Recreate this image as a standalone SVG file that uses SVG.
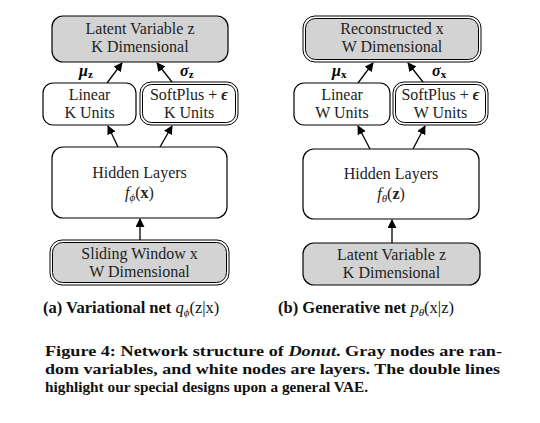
<svg xmlns="http://www.w3.org/2000/svg" width="540" height="423" viewBox="0 0 540 423">
<defs>
<style>
.n{fill:#fff;stroke:#000;stroke-width:1.2}
.g{fill:#d3d3d3;stroke:#000;stroke-width:1.2}
.o{fill:#fff;stroke:#000;stroke-width:1}
.i{stroke:#000;stroke-width:1}
.t{font-family:"Liberation Serif",serif;font-size:16px;text-anchor:middle;fill:#222}
.m{font-family:"Liberation Serif",serif;font-size:16px;font-style:italic;font-weight:bold;fill:#000}
.c{stroke:#000;stroke-width:1.3;fill:none;marker-end:url(#ah)}
.cap{font-family:"Liberation Serif",serif;font-weight:bold;font-size:16.5px;fill:#111}
.fig{font-family:"Liberation Serif",serif;font-weight:bold;font-size:15.5px;fill:#111}
</style>
<marker id="ah" viewBox="0 0 10 10" refX="9" refY="5" markerWidth="9" markerHeight="9" markerUnits="userSpaceOnUse" orient="auto">
<path d="M0,0 L10,5 L0,10 z" fill="#000"/>
</marker>
</defs>

<g id="connectors">
<line class="c" x1="140" y1="240" x2="140" y2="219"/>
<line class="c" x1="118" y1="147" x2="108" y2="126"/>
<line class="c" x1="160" y1="147" x2="172" y2="126"/>
<line class="c" x1="107" y1="83" x2="122" y2="63"/>
<line class="c" x1="172" y1="82" x2="157" y2="63"/>
<line class="c" x1="392" y1="243" x2="392" y2="220"/>
<line class="c" x1="370" y1="149" x2="358" y2="126"/>
<line class="c" x1="413" y1="149" x2="425" y2="126"/>
<line class="c" x1="358" y1="83" x2="373" y2="63"/>
<line class="c" x1="423" y1="82" x2="408" y2="63"/>
</g>

<g id="latent-z-a">
<rect class="g" x="52" y="16" width="176" height="46" rx="11"/>
<text class="t" x="140" y="34">Latent Variable z</text>
<text class="t" x="140" y="52">K Dimensional</text>
</g>
<g id="mu-z-label"><text class="m" x="79" y="76">μ<tspan font-size="11" dy="2" font-style="normal">z</tspan></text></g>
<g id="sigma-z-label"><text class="m" x="180" y="76">σ<tspan font-size="11" dy="2" font-style="normal">z</tspan></text></g>
<g id="linear-a">
<rect class="n" x="43" y="83" width="93" height="42" rx="10"/>
<text class="t" x="89.5" y="100">Linear</text>
<text class="t" x="89.5" y="118">K Units</text>
</g>
<g id="softplus-a">
<rect class="o" x="140" y="82" width="98" height="43" rx="11"/>
<rect class="n i" x="142.5" y="84.5" width="93" height="38" rx="9"/>
<text class="t" x="189" y="100">SoftPlus + <tspan font-style="italic" font-weight="bold">ϵ</tspan></text>
<text class="t" x="189" y="118">K Units</text>
</g>
<g id="hidden-a">
<rect class="n" x="52" y="147" width="175" height="71" rx="11"/>
<text class="t" x="139.5" y="178">Hidden Layers</text>
<text class="t" x="139.5" y="198"><tspan font-style="italic">f</tspan><tspan font-style="italic" font-size="11" dy="3">ϕ</tspan><tspan dy="-3">(</tspan><tspan font-weight="bold">x</tspan>)</text>
</g>
<g id="sliding-window-x">
<rect class="o" x="50" y="240" width="179" height="45" rx="12"/>
<rect class="g i" x="52.5" y="242.5" width="174" height="40" rx="10"/>
<text class="t" x="139.5" y="259">Sliding Window x</text>
<text class="t" x="139.5" y="277">W Dimensional</text>
</g>

<g id="reconstructed-x">
<rect class="o" x="303" y="16" width="178" height="46" rx="12"/>
<rect class="g i" x="305.5" y="18.5" width="173" height="41" rx="10"/>
<text class="t" x="392" y="34">Reconstructed x</text>
<text class="t" x="392" y="52">W Dimensional</text>
</g>
<g id="mu-x-label"><text class="m" x="332" y="76">μ<tspan font-size="11" dy="2" font-style="normal">x</tspan></text></g>
<g id="sigma-x-label"><text class="m" x="432" y="76">σ<tspan font-size="11" dy="2" font-style="normal">x</tspan></text></g>
<g id="linear-b">
<rect class="n" x="294" y="83" width="96" height="42" rx="10"/>
<text class="t" x="342" y="100">Linear</text>
<text class="t" x="342" y="118">W Units</text>
</g>
<g id="softplus-b">
<rect class="o" x="393" y="82" width="95" height="43" rx="11"/>
<rect class="n i" x="395.5" y="84.5" width="90" height="38" rx="9"/>
<text class="t" x="440.5" y="100">SoftPlus + <tspan font-style="italic" font-weight="bold">ϵ</tspan></text>
<text class="t" x="440.5" y="118">W Units</text>
</g>
<g id="hidden-b">
<rect class="n" x="303" y="149" width="176" height="70" rx="11"/>
<text class="t" x="391" y="179">Hidden Layers</text>
<text class="t" x="391" y="199"><tspan font-style="italic">f</tspan><tspan font-style="italic" font-size="11" dy="3">θ</tspan><tspan dy="-3">(</tspan><tspan font-weight="bold">z</tspan>)</text>
</g>
<g id="latent-z-b">
<rect class="g" x="303" y="243" width="177" height="42" rx="11"/>
<text class="t" x="391.5" y="260">Latent Variable z</text>
<text class="t" x="391.5" y="278">K Dimensional</text>
</g>

<g id="captions">
<text class="cap" x="43" y="313">(a) Variational net <tspan font-style="italic" font-weight="normal">q</tspan><tspan font-style="italic" font-weight="normal" font-size="11" dy="3">ϕ</tspan><tspan font-weight="normal" dy="-3">(z|x)</tspan></text>
<text class="cap" x="278" y="313">(b) Generative net <tspan font-style="italic" font-weight="normal">p</tspan><tspan font-style="italic" font-weight="normal" font-size="11" dy="3">θ</tspan><tspan font-weight="normal" dy="-3">(x|z)</tspan></text>
<text class="fig" x="45" y="356" textLength="457" lengthAdjust="spacingAndGlyphs">Figure 4: Network structure of <tspan font-style="italic">Donut</tspan>. Gray nodes are ran-</text>
<text class="fig" x="45" y="374" textLength="455" lengthAdjust="spacingAndGlyphs">dom variables, and white nodes are layers. The double lines</text>
<text class="fig" x="45" y="392" textLength="323" lengthAdjust="spacingAndGlyphs">highlight our special designs upon a general VAE.</text>
</g>
</svg>
